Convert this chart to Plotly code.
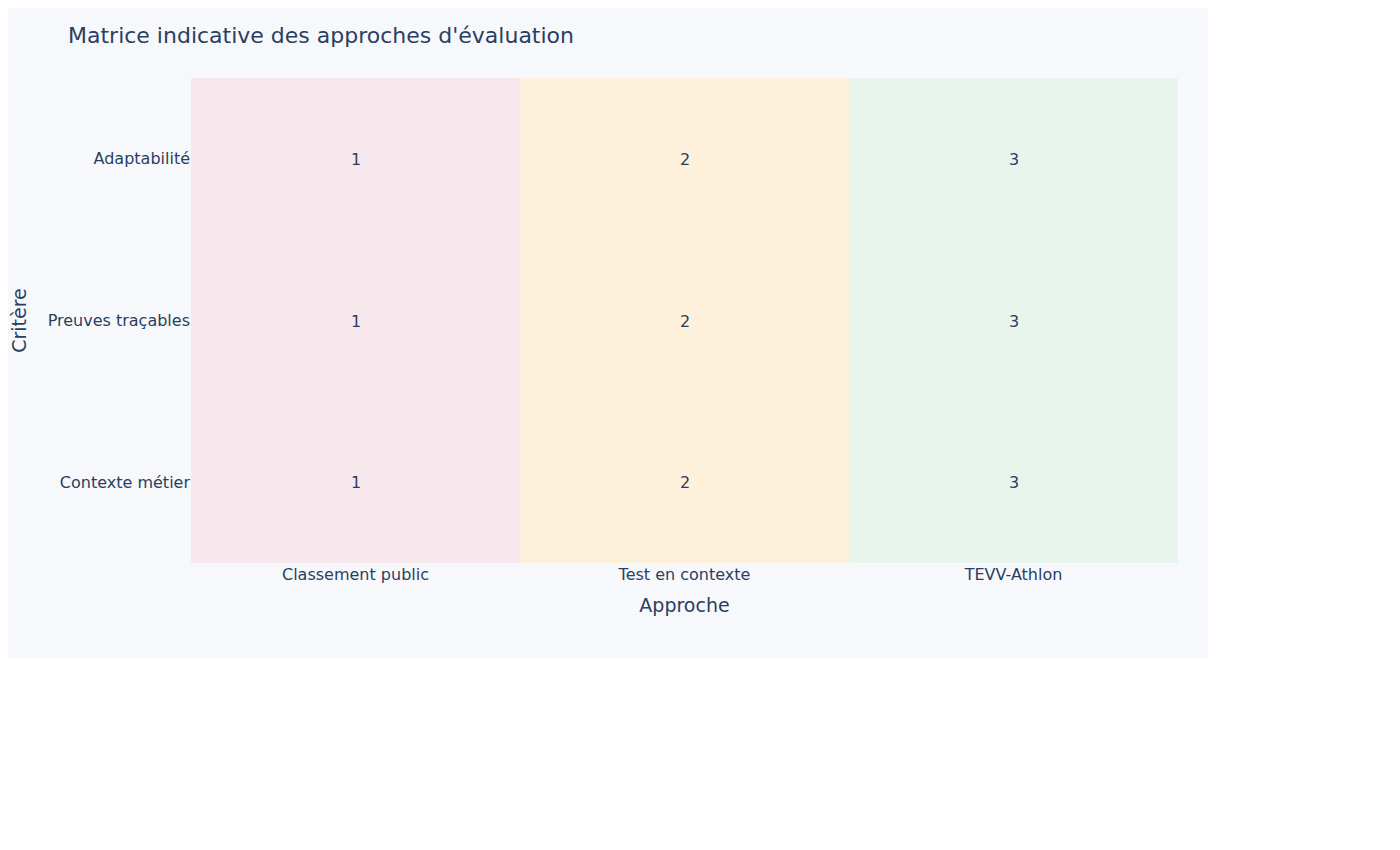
import plotly.graph_objects as go

# Données de la matrice
approches = ["Classement public", "Test en contexte", "TEVV-Athlon"]
criteres = ["Contexte métier", "Preuves traçables", "Adaptabilité"]
scores_contexte = [1, 2, 3]
scores_preuves = [1, 2, 3]
scores_adaptabilite = [1, 2, 3]

z = [scores_contexte, scores_preuves, scores_adaptabilite]

fig = go.Figure(go.Heatmap(
    z=z,
    x=approches,
    y=criteres,
    zmin=1,
    zmax=3,
    colorscale=[[0.0, "#f7e8ee"], [0.5, "#fef1dc"], [1.0, "#e8f5ec"]],
    showscale=False,
    texttemplate="%{z}",
    textfont=dict(size=16, color="#2a3f5f"),
    hovertemplate="%{y} / %{x}: %{z}<extra></extra>",
))

fig.update_layout(
    title=dict(text="Matrice indicative des approches d'évaluation", font=dict(size=22)),
    width=1200,
    height=650,
    margin=dict(l=183, r=30, t=70, b=95),
    paper_bgcolor="#f7f8fc",
    plot_bgcolor="#f7f8fc",
    font=dict(family="Verdana, DejaVu Sans, sans-serif", color="#2a3f5f", size=16),
    xaxis=dict(title=dict(text="Approche", font=dict(size=19)), showgrid=False, zeroline=False),
    yaxis=dict(title=dict(text="Critère", font=dict(size=19)), showgrid=False, zeroline=False),
)

fig.write_html("out.html")
